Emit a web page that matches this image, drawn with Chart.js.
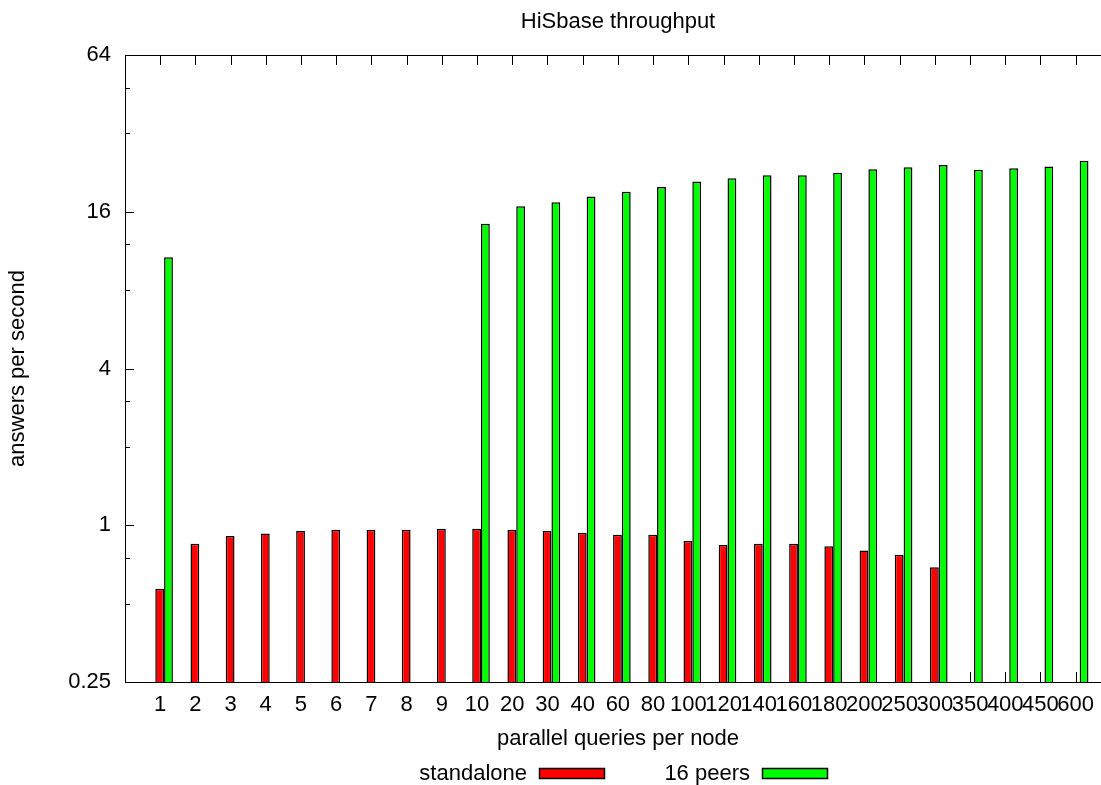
<!DOCTYPE html>
<html>
<head>
<meta charset="utf-8">
<title>HiSbase throughput</title>
<script src="https://cdn.jsdelivr.net/npm/chart.js@4.4.1/dist/chart.umd.min.js"></script>
<style>
    html, body { margin: 0; padding: 0; background: #fff; overflow: hidden; }
    #wrap { width: 1125px; height: 785px; }
</style>
</head>
<body>
<div id="wrap"><canvas id="chart" width="1125" height="785"></canvas></div>
<script>
const categories = ['1', '2', '3', '4', '5', '6', '7', '8', '9', '10', '20', '30', '40', '60', '80',
    '100', '120', '140', '160', '180', '200', '250', '300', '350', '400', '450', '600'];
const standalone = [0.57, 0.85, 0.91, 0.93, 0.95, 0.96, 0.96, 0.96, 0.97, 0.97, 0.96, 0.95, 0.935, 0.92, 0.92,
    0.87, 0.84, 0.85, 0.85, 0.83, 0.80, 0.77, 0.69, null, null, null, null];
const peers16 = [10.7, null, null, null, null, null, null, null, null, 14.4, 16.8, 17.4, 18.3, 19.1, 19.9,
    20.9, 21.5, 22.1, 22.1, 22.6, 23.3, 23.7, 24.2, 23.2, 23.5, 23.9, 25.1];
const yTicks = [0.25, 1, 4, 16, 64];
const yMinorTicks = [0.5, 0.75, 2, 3, 8, 12, 32, 48];

const font = "'Liberation Sans', Arial, Helvetica, sans-serif";
const labelShift = -4; // gnuplot puts the tic a bit left of the bar cluster

function toPoints(values) {
    return values.map((v, i) => ({ x: i, y: v }));
}

// inward tic marks and the top border, gnuplot style
const frame = {
    id: 'frame',
    beforeDatasetsDraw(chart) {
        const { ctx, chartArea } = chart;
        const x = chart.scales.x;
        const y = chart.scales.y;
        ctx.save();
        ctx.strokeStyle = '#000';
        ctx.lineWidth = 1;
        ctx.beginPath();
        ctx.moveTo(chartArea.left, chartArea.top + 0.5);
        ctx.lineTo(chartArea.right, chartArea.top + 0.5);
        categories.forEach((c, i) => {
            const px = Math.round(x.getPixelForValue(i) + labelShift) + 0.5;
            ctx.moveTo(px, chartArea.top);
            ctx.lineTo(px, chartArea.top + 10);
            ctx.moveTo(px, chartArea.bottom);
            ctx.lineTo(px, chartArea.bottom - 10);
        });
        yTicks.forEach(v => {
            const py = Math.round(y.getPixelForValue(v)) + 0.5;
            ctx.moveTo(chartArea.left, py);
            ctx.lineTo(chartArea.left + 9, py);
        });
        yMinorTicks.forEach(v => {
            const py = Math.round(y.getPixelForValue(v)) + 0.5;
            ctx.moveTo(chartArea.left, py);
            ctx.lineTo(chartArea.left + 5, py);
        });
        ctx.stroke();
        ctx.restore();
    },
    afterDraw(chart) {
        const { ctx, chartArea } = chart;
        ctx.save();
        ctx.fillStyle = '#000';
        ctx.font = '22px ' + font;
        ctx.textBaseline = 'alphabetic';
        ctx.textAlign = 'center';
        ctx.fillText('HiSbase throughput', (chartArea.left + chartArea.right) / 2, 28);

        // key: text first, then the sample box
        const keyText = [527, 750];
        const keyBox = [539, 762];
        chart.data.datasets.forEach((ds, i) => {
            ctx.textAlign = 'right';
            ctx.fillStyle = '#000';
            ctx.fillText(ds.label, keyText[i], 780);
            ctx.fillStyle = ds.backgroundColor;
            ctx.fillRect(keyBox[i], 768, 66, 11);
            ctx.strokeStyle = '#000';
            ctx.lineWidth = 1.5;
            ctx.strokeRect(keyBox[i] + 0.5, 768.5, 65, 10);
        });
        ctx.restore();
    }
};

const chart = new Chart(document.getElementById('chart'), {
    type: 'bar',
    data: {
        datasets: [
            { label: 'standalone', data: toPoints(standalone), backgroundColor: '#ff0000', borderColor: '#000', borderWidth: 1.5 },
            { label: '16 peers', data: toPoints(peers16), backgroundColor: '#00ff00', borderColor: '#000', borderWidth: 1.5 }
        ]
    },
    options: {
        responsive: false,
        animation: false,
        categoryPercentage: 0.5,
        barPercentage: 1.0,
        layout: { padding: { top: 55, right: 14, bottom: 33, left: 0 } },
        plugins: {
            legend: { display: false },
            title: { display: false },
            tooltip: { enabled: false }
        },
        scales: {
            x: {
                type: 'linear',
                offset: false,
                min: -1.11,
                max: 26.89,
                grid: { display: false, drawTicks: false },
                border: { display: true, color: '#000', width: 1 },
                afterBuildTicks: scale => {
                    scale.ticks = categories.map((c, i) => ({ value: i }));
                },
                afterFit: scale => { scale.height = 70; },
                ticks: {
                    autoSkip: false,
                    maxRotation: 0,
                    minRotation: 0,
                    padding: 10,
                    labelOffset: labelShift,
                    color: '#000',
                    font: { family: font, size: 22 },
                    callback: value => categories[value]
                },
                title: {
                    display: true,
                    text: 'parallel queries per node',
                    color: '#000',
                    padding: { top: 0, bottom: 0 },
                    font: { family: font, size: 22 }
                }
            },
            y: {
                type: 'logarithmic',
                min: 0.25,
                max: 64,
                grid: { display: false, drawTicks: false },
                border: { display: true, color: '#000', width: 1 },
                afterBuildTicks: scale => {
                    scale.ticks = yTicks.map(v => ({ value: v }));
                },
                afterFit: scale => { scale.width = 125; },
                ticks: {
                    padding: 14,
                    color: '#000',
                    font: { family: font, size: 22 },
                    callback: value => String(value)
                },
                title: {
                    display: true,
                    text: 'answers per second',
                    color: '#000',
                    padding: { top: 5, bottom: 0 },
                    font: { family: font, size: 22 }
                }
            }
        }
    },
    plugins: [frame]
});
</script>
</body>
</html>
